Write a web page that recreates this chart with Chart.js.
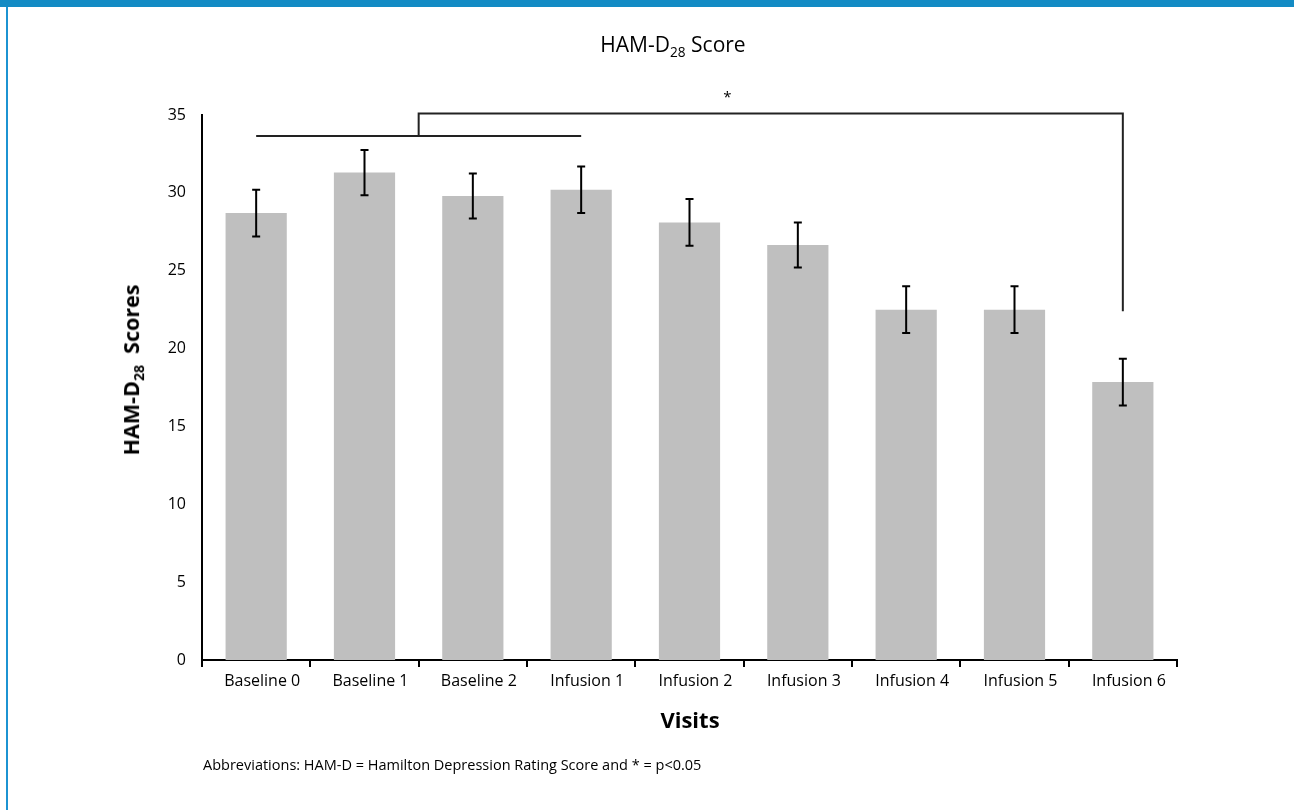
<!DOCTYPE html>
<html>
<head>
<meta charset="utf-8">
<script src="https://cdn.jsdelivr.net/npm/chart.js@4"></script>
<style>
  body { margin: 0; width: 1294px; height: 810px; position: relative; background: #fff; overflow: hidden; font-family: "Open Sans", sans-serif; color: #000; }
  #topbar { position: absolute; left: 0; top: 0; width: 1294px; height: 7px; background: #138bc4; }
  #leftline { position: absolute; left: 6px; top: 7px; width: 2px; height: 803px; background: #1c93d2; }
  #grafica { position: absolute; left: 0; top: 0; }
  .txt { position: absolute; white-space: nowrap; line-height: 1; }
  #titulo { left: 673px; top: 34px; transform: translateX(-50%); font-size: 21px; }
  #ytitulo { left: 133px; top: 370px; transform: translate(-50%, -50%) rotate(-90deg); font-size: 21.5px; font-weight: bold; }
  #xtitulo { left: 690px; top: 708px; transform: translateX(-50%); font-size: 22px; font-weight: bold; }
  #nota { left: 203px; top: 758px; font-size: 14.5px; }
  sub { font-size: 0.65em; vertical-align: -0.35em; }
</style>
</head>
<body>
<div id="topbar"></div>
<div id="leftline"></div>
<canvas id="grafica" width="1294" height="810"></canvas>
<div class="txt" id="titulo">HAM-D<sub>28</sub> Score</div>
<div class="txt" id="ytitulo">HAM-D<sub>28</sub>&nbsp; Scores</div>
<div class="txt" id="xtitulo">Visits</div>
<div class="txt" id="nota">Abbreviations: HAM-D = Hamilton Depression Rating Score and * = p&lt;0.05</div>

<script>
// Datos
const visitas = ["Baseline 0", "Baseline 1", "Baseline 2", "Infusion 1", "Infusion 2", "Infusion 3", "Infusion 4", "Infusion 5", "Infusion 6"];
const puntajes = [28.7, 31.3, 29.8, 30.2, 28.1, 26.65, 22.5, 22.5, 17.85];
const errores = [1.5, 1.45, 1.45, 1.5, 1.5, 1.45, 1.5, 1.5, 1.5];
const yTicks = [0, 5, 10, 15, 20, 25, 30, 35];

// Corchete de significancia: baseline (0..3) contra Infusion 6
const corcheteBase = [0, 3];
const nivelBase = 33.65;
const nivelComparacion = 35.1;
const corcheteDestino = 8;
const bajadaDestino = 22.4;
const estrella = { x: 4.35, y: 36.1, texto: "*" };

const fuente = '"Open Sans", sans-serif';

// Barras de error y corchetes
const extras = {
  id: 'extras',
  afterDatasetsDraw(chart) {
    const { ctx, scales: { x, y } } = chart;
    ctx.save();
    ctx.strokeStyle = '#000';
    ctx.lineWidth = 2;
    ctx.beginPath();
    puntajes.forEach((v, i) => {
      const px = x.getPixelForValue(i);
      const arriba = y.getPixelForValue(v + errores[i]);
      const abajo = y.getPixelForValue(v - errores[i]);
      ctx.moveTo(px, arriba); ctx.lineTo(px, abajo);
      ctx.moveTo(px - 4, arriba); ctx.lineTo(px + 4, arriba);
      ctx.moveTo(px - 4, abajo); ctx.lineTo(px + 4, abajo);
    });
    ctx.stroke();

    ctx.strokeStyle = '#222';
    const x0 = x.getPixelForValue(corcheteBase[0]);
    const x1 = x.getPixelForValue(corcheteBase[1]);
    const xm = (x0 + x1) / 2;
    const xd = x.getPixelForValue(corcheteDestino);
    const yb = y.getPixelForValue(nivelBase);
    const yc = y.getPixelForValue(nivelComparacion);
    const yd = y.getPixelForValue(bajadaDestino);
    ctx.beginPath();
    ctx.moveTo(x0, yb); ctx.lineTo(x1, yb);
    ctx.moveTo(xm, yb); ctx.lineTo(xm, yc); ctx.lineTo(xd, yc); ctx.lineTo(xd, yd);
    ctx.stroke();

    ctx.fillStyle = '#000';
    ctx.font = '15px ' + fuente;
    ctx.textAlign = 'center';
    ctx.textBaseline = 'middle';
    ctx.fillText(estrella.texto, x.getPixelForValue(estrella.x), y.getPixelForValue(estrella.y));
    ctx.restore();
  }
};

const $grafica = document.querySelector("#grafica");

new Chart($grafica, {
  type: 'bar',
  data: {
    labels: visitas,
    datasets: [{
      label: "HAM-D28",
      data: puntajes,
      backgroundColor: '#bfbfbf',
      borderWidth: 0,
      categoryPercentage: 1,
      barPercentage: 0.565
    }]
  },
  options: {
    responsive: false,
    animation: false,
    devicePixelRatio: 1,
    layout: { padding: { left: 150, top: 115, right: 117, bottom: 110 } },
    plugins: { legend: { display: false }, tooltip: { enabled: false }, title: { display: false } },
    scales: {
      x: {
        grid: { display: true, drawOnChartArea: false, drawTicks: true, tickLength: 7, color: '#000', lineWidth: 2, offset: true },
        border: { display: true, color: '#000', width: 2 },
        ticks: { color: '#000', font: { family: fuente, size: 16 }, padding: 5, labelOffset: 6, maxRotation: 0, autoSkip: false },
        afterFit: (s) => { s.height = 40; }
      },
      y: {
        min: 0,
        max: 35,
        afterBuildTicks: (s) => { s.ticks = yTicks.map(v => ({ value: v })); },
        grid: { display: false },
        border: { display: true, color: '#000', width: 2 },
        ticks: { color: '#000', font: { family: fuente, size: 16 }, padding: 8 },
        afterFit: (s) => { s.width = 52; }
      }
    }
  },
  plugins: [extras]
});
</script>
</body>
</html>
